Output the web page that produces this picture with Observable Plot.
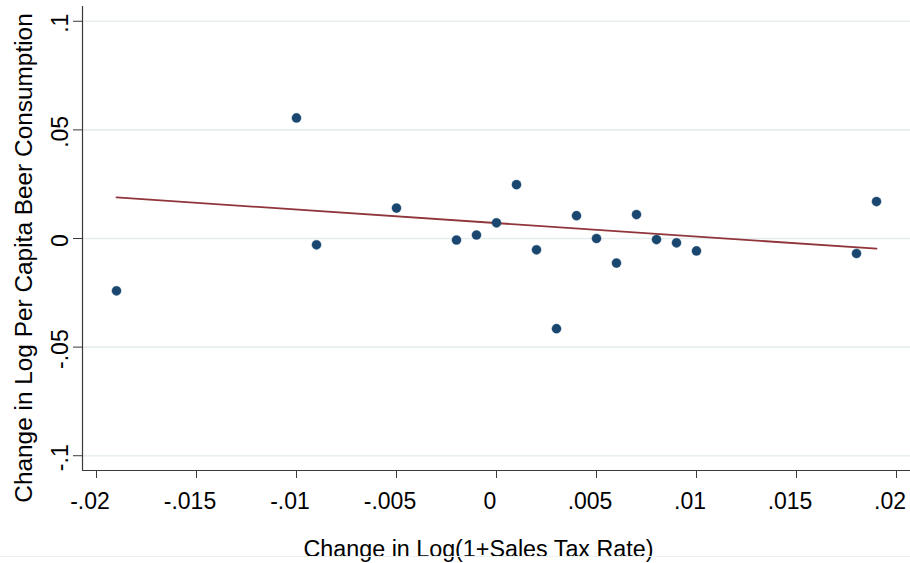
<!DOCTYPE html>
<html><head><meta charset="utf-8">
<script src="https://cdn.jsdelivr.net/npm/d3@7"></script>
<script src="https://cdn.jsdelivr.net/npm/@observablehq/plot@0.6"></script>
<style>
html,body{margin:0;padding:0;background:#fff;}
#wrap{position:relative;width:910px;height:563px;overflow:hidden;}
#edge{position:absolute;left:0;top:556px;width:910px;height:0;border-top:1.5px solid #e9f1f3;z-index:2;}
</style></head><body><div id="wrap"></div>
<script>
// Data
const taxChange  = [-0.019, -0.010, -0.009, -0.005, -0.002, -0.001, 0.000, 0.001, 0.002, 0.003, 0.004, 0.005, 0.006, 0.007, 0.008, 0.009, 0.010, 0.018, 0.019];
const beerChange = [-0.0241, 0.0555, -0.0029, 0.0140, -0.0007, 0.0016, 0.0072, 0.0248, -0.0052, -0.0415, 0.0105, 0.0000, -0.0113, 0.0110, -0.0005, -0.0020, -0.0057, -0.0069, 0.0170];
// Fitted line endpoints
const fitX = [-0.019, 0.019];
const fitY = [0.0189, -0.0047];
const xTicks = [-0.02, -0.015, -0.01, -0.005, 0, 0.005, 0.01, 0.015, 0.02];
const xTickLabels = ["-.02", "-.015", "-.01", "-.005", "0", ".005", ".01", ".015", ".02"];
const yTicks = [-0.1, -0.05, 0, 0.05, 0.1];
const yTickLabels = ["-.1", "-.05", "0", ".05", ".1"];
const xTitle = "Change in Log(1+Sales Tax Rate)";
const yTitle = "Change in Log Per Capita Beer Consumption";
const xDomain = [-0.0207, 0.0207];
const yDomain = [-0.1068, 0.1068];

const points = taxChange.map((x, i) => ({x, y: beerChange[i]}));
const fit = fitX.map((x, i) => ({x, y: fitY[i]}));
const xLab = xTicks.map((v, i) => ({v, t: xTickLabels[i]}));
const yLab = yTicks.map((v, i) => ({v, t: yTickLabels[i]}));
const font = "'Liberation Sans', Arial, Helvetica, sans-serif";

const chart = Plot.plot({
  width: 910,
  height: 563,
  marginLeft: 82,
  marginRight: 0,
  marginTop: 6,
  marginBottom: 93,
  style: {fontFamily: font, fontSize: "23px", background: "transparent", color: "#000"},
  x: {domain: xDomain, label: null},
  y: {domain: yDomain, label: null},
  marks: [
    Plot.ruleY(yTicks, {stroke: "#e6eef0", strokeWidth: 1.6}),
    Plot.ruleX([xDomain[0]], {stroke: "#3a3a3a", strokeWidth: 1.2}),
    Plot.ruleY([yDomain[0]], {stroke: "#3a3a3a", strokeWidth: 1.2}),
    Plot.axisX({ticks: xTicks, tickFormat: () => "", tickSize: 8, stroke: "#3a3a3a", label: null}),
    Plot.axisY({ticks: yTicks, tickFormat: () => "", tickSize: 9, stroke: "#3a3a3a", label: null}),
    Plot.text(xLab, {frameAnchor: "bottom", x: "v", text: "t", dx: -6.5, dy: 21.7, lineAnchor: "top", textAnchor: "middle", fontSize: 23, fill: "#000"}),
    Plot.text(yLab, {frameAnchor: "left", y: "v", text: "t", rotate: -90, dx: -14.5, dy: 2, lineAnchor: "bottom", textAnchor: "middle", fontSize: 23, fill: "#000"}),
    Plot.text([xTitle], {frameAnchor: "bottom", text: d => d, dx: -18, dy: 86, lineAnchor: "bottom", textAnchor: "middle", fontSize: 23.3, fill: "#000"}),
    Plot.text([yTitle], {frameAnchor: "left", text: d => d, rotate: -90, dx: -51, dy: 19.5, lineAnchor: "bottom", textAnchor: "middle", fontSize: 24.4, fill: "#000"}),
    Plot.line(fit, {x: "x", y: "y", stroke: "#90353b", strokeWidth: 1.8}),
    Plot.dot(points, {x: "x", y: "y", r: 4.6, fill: "#1a476f", stroke: "#1a476f", strokeWidth: 0.4})
  ]
});
const wrap = document.getElementById("wrap");
wrap.appendChild(chart);
const edge = document.createElement("div");
edge.id = "edge";
wrap.appendChild(edge);
</script>
</body></html>
